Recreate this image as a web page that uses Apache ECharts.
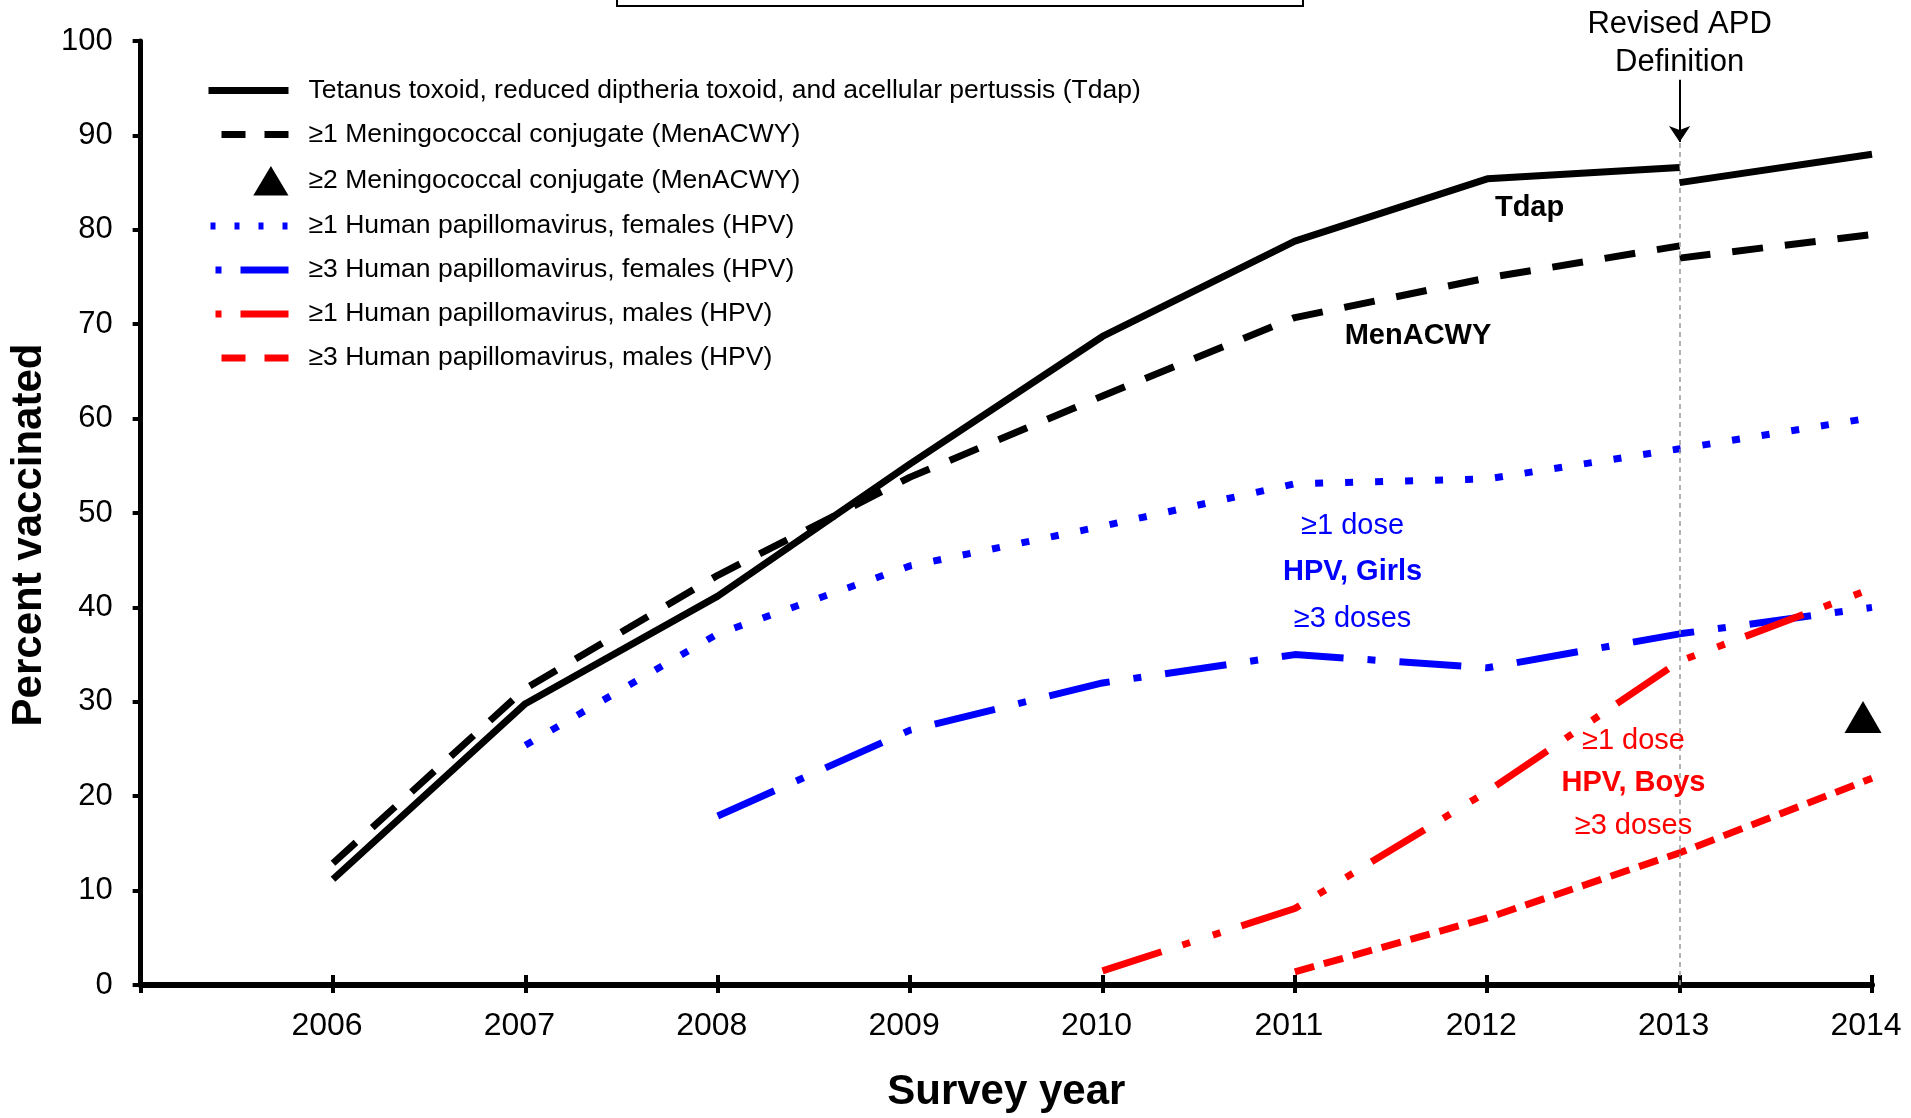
<!DOCTYPE html>
<html>
<head>
<meta charset="utf-8">
<script src="https://cdn.jsdelivr.net/npm/echarts@6/dist/echarts.min.js"></script>
<style>
html,body{margin:0;padding:0;background:#fff;}
#chart{width:1911px;height:1118px;}
</style>
</head>
<body>
<div id="chart"></div>
<script>
// ---- data (percent vaccinated) ----
const tdapYears = [2006, 2007, 2008, 2009, 2010, 2011, 2012, 2013];
const tdapOriginal = [11.2, 29.8, 41.2, 55.2, 68.7, 78.8, 85.4, 86.6];
const revisedYears = [2013, 2014];
const tdapRevised = [85.0, 88.0];
const menYears = [2006, 2007, 2008, 2009, 2010, 2011, 2012, 2013];
const menOriginal = [12.9, 31.4, 43.4, 53.8, 62.4, 70.7, 74.9, 78.3];
const menRevised = [77.0, 79.5];
const men2Years = [2014];
const men2Dose = [28.4];
const hpvF1Years = [2007, 2008, 2009, 2010, 2011, 2012, 2013, 2014];
const hpvFemale1 = [25.4, 37.2, 44.4, 48.6, 53.1, 53.6, 56.8, 60.1];
const hpvF3Years = [2008, 2009, 2010, 2011, 2012, 2013, 2014];
const hpvFemale3 = [17.9, 27.0, 32.0, 35.0, 33.6, 37.2, 40.0];
const hpvM1Years = [2010, 2011, 2012, 2013, 2014];
const hpvMale1 = [1.5, 8.1, 20.5, 34.3, 42.0];
const hpvM3Years = [2011, 2012, 2013, 2014];
const hpvMale3 = [1.4, 7.1, 14.0, 21.9];

const seriesNames = [
  'Tetanus toxoid, reduced diptheria toxoid, and acellular pertussis (Tdap)',
  '\u22651 Meningococcal conjugate (MenACWY)',
  '\u22652 Meningococcal conjugate (MenACWY)',
  '\u22651 Human papillomavirus, females (HPV)',
  '\u22653 Human papillomavirus, females (HPV)',
  '\u22651 Human papillomavirus, males (HPV)',
  '\u22653 Human papillomavirus, males (HPV)'
];

// annotation texts (in data coordinates)
const annText = ['Tdap', 'MenACWY', '\u22651 dose', 'HPV, Girls', '\u22653 doses', '\u22651 dose', 'HPV, Boys', '\u22653 doses'];
const annX = [2012.22, 2011.64, 2011.30, 2011.30, 2011.30, 2012.76, 2012.76, 2012.76];
const annY = [82.3, 68.8, 48.6, 43.8, 38.8, 25.9, 21.4, 16.8];
const annColor = ['#000', '#000', '#0000ff', '#0000ff', '#0000ff', '#ff0000', '#ff0000', '#ff0000'];
const annBold = [true, true, false, true, false, false, true, false];

const revisedLabel = 'Revised APD\nDefinition';
const revisedYear = 2013;

function pairs(xs, ys) { return xs.map((x, i) => [x, ys[i]]); }

const FONT = '"Liberation Sans", Arial, sans-serif';
const LW = 7;

// legend icon styles (drawn by the legend itself)
const legendDash = [24, 19];
const legendDot = [5, 19];
const legendDashDot = [6, 19, 48, 7];
const triangleIcon = 'path://M0,0 M47,32 L65.5,1 L84,32 Z';

const chart = echarts.init(document.getElementById('chart'), null, {renderer: 'canvas'});

const option = {
  backgroundColor: '#fff',
  animation: false,
  textStyle: {fontFamily: FONT, color: '#000'},
  grid: {left: 138, right: 39, top: 41, bottom: 131, containLabel: false},
  legend: {
    data: [
      {name: seriesNames[0], lineStyle: {type: 'solid'}},
      {name: seriesNames[1], lineStyle: {type: legendDash, dashOffset: 30}},
      {name: seriesNames[2], icon: triangleIcon, itemStyle: {opacity: 1, color: '#000'}},
      {name: seriesNames[3], lineStyle: {type: legendDot, dashOffset: 22}},
      {name: seriesNames[4], lineStyle: {type: legendDashDot, dashOffset: 73}},
      {name: seriesNames[5], lineStyle: {type: legendDashDot, dashOffset: 73}},
      {name: seriesNames[6], lineStyle: {type: legendDash, dashOffset: 30}}
    ],
    orient: 'vertical',
    left: 200,
    top: 72,
    itemWidth: 80,
    itemHeight: 32,
    itemGap: 17,
    selectedMode: false,
    itemStyle: {opacity: 0},
    lineStyle: {width: 7},
    textStyle: {fontFamily: FONT, fontSize: 26.5, color: '#000', padding: [0, 0, 0, 15]}
  },
  xAxis: [{
    type: 'value',
    min: 2005, max: 2014, interval: 1,
    axisLine: {show: true, onZero: false, lineStyle: {color: '#000', width: 6}},
    axisTick: {show: true, inside: false, length: 8, lineStyle: {color: '#000', width: 4}},
    axisLabel: {fontSize: 32, color: '#000', margin: 25, fontFamily: FONT, padding: [0, 12, 0, 0],
      formatter: v => (v === 2005 ? '' : String(v))},
    splitLine: {show: false},
    name: 'Survey year',
    nameLocation: 'middle',
    nameGap: 86,
    nameTextStyle: {fontSize: 42, fontWeight: 'bold', color: '#000', fontFamily: FONT}
  }, {
    type: 'value',
    position: 'bottom',
    min: 2005, max: 2014, interval: 1,
    axisLine: {show: false},
    axisTick: {show: true, inside: true, length: 10, lineStyle: {color: '#000', width: 4}},
    axisLabel: {show: false},
    splitLine: {show: false}
  }],
  yAxis: {
    type: 'value',
    min: 0, max: 100, interval: 10,
    axisLine: {show: true, lineStyle: {color: '#000', width: 5}},
    axisTick: {show: true, inside: false, length: 8, lineStyle: {color: '#000', width: 4}},
    axisLabel: {fontSize: 31, color: '#000', margin: 28, fontFamily: FONT},
    splitLine: {show: false},
    name: 'Percent vaccinated',
    nameLocation: 'middle',
    nameRotate: 90,
    nameGap: 78,
    nameTextStyle: {fontSize: 42, fontWeight: 'bold', color: '#000', fontFamily: FONT, padding: [0, 44, 0, 0]}
  },
  series: [
    {
      name: seriesNames[0], type: 'line', symbol: 'none', z: 5,
      data: pairs(tdapYears, tdapOriginal).concat([[revisedYear, '-']], pairs(revisedYears, tdapRevised)),
      lineStyle: {color: '#000', width: LW, type: 'solid'},
      itemStyle: {color: '#000'},
      markLine: {
        silent: true, animation: false,
        symbol: ['none', 'none'],
        label: {show: false},
        lineStyle: {color: '#999', width: 1.5, type: [5, 4]},
        data: [[{coord: [revisedYear, 0]}, {coord: [revisedYear, 89.2]}]]
      }
    },
    {
      name: seriesNames[1], type: 'line', symbol: 'none', z: 4,
      data: pairs(menYears, menOriginal).concat([[revisedYear, '-']], pairs(revisedYears, menRevised)),
      lineStyle: {color: '#000', width: LW, type: [31, 22]},
      itemStyle: {color: '#000'},
      markLine: {
        silent: true, animation: false,
        symbol: ['none', 'arrow'],
        symbolSize: [16, 16],
        lineStyle: {color: '#000', width: 2, type: 'solid'},
        label: {show: true, position: 'start', formatter: revisedLabel, fontSize: 31, lineHeight: 38,
          color: '#000', fontFamily: FONT, distance: -2},
        data: [[{coord: [revisedYear, 95.9]}, {coord: [revisedYear, 89.3]}]]
      }
    },
    {
      name: seriesNames[2], type: 'scatter', symbol: 'triangle', symbolSize: [37, 32],
      symbolOffset: [-9, 0],
      data: pairs(men2Years, men2Dose),
      itemStyle: {color: '#000', opacity: 1}
    },
    {
      name: seriesNames[3], type: 'line', symbol: 'none',
      data: pairs(hpvF1Years, hpvFemale1),
      lineStyle: {color: '#0000ff', width: LW, type: [8, 22]},
      itemStyle: {color: '#0000ff'}
    },
    {
      name: seriesNames[4], type: 'line', symbol: 'none',
      data: pairs(hpvF3Years, hpvFemale3),
      lineStyle: {color: '#0000ff', width: LW, type: [62, 24, 8, 24]},
      itemStyle: {color: '#0000ff'}
    },
    {
      name: seriesNames[5], type: 'line', symbol: 'none',
      data: pairs(hpvM1Years, hpvMale1),
      lineStyle: {color: '#ff0000', width: LW, type: [62, 22, 8, 24, 8, 22]},
      itemStyle: {color: '#ff0000'}
    },
    {
      name: seriesNames[6], type: 'line', symbol: 'none',
      data: pairs(hpvM3Years, hpvMale3),
      lineStyle: {color: '#ff0000', width: LW, type: [20, 10]},
      itemStyle: {color: '#ff0000'}
    },
    {
      name: 'annotations', type: 'scatter', symbolSize: 0, silent: true, z: 10,
      itemStyle: {opacity: 1},
      data: annText.map((t, i) => ({
        value: [annX[i], annY[i]],
        label: {show: true, position: 'inside', formatter: t, fontSize: 29, fontFamily: FONT,
          color: annColor[i], fontWeight: annBold[i] ? 'bold' : 'normal'}
      }))
    }
  ],
  graphic: [{
    type: 'rect', silent: true,
    shape: {x: 617, y: -10, width: 686, height: 16},
    style: {fill: 'none', stroke: '#000', lineWidth: 2}
  }]
};
chart.setOption(option);
</script>
</body>
</html>
